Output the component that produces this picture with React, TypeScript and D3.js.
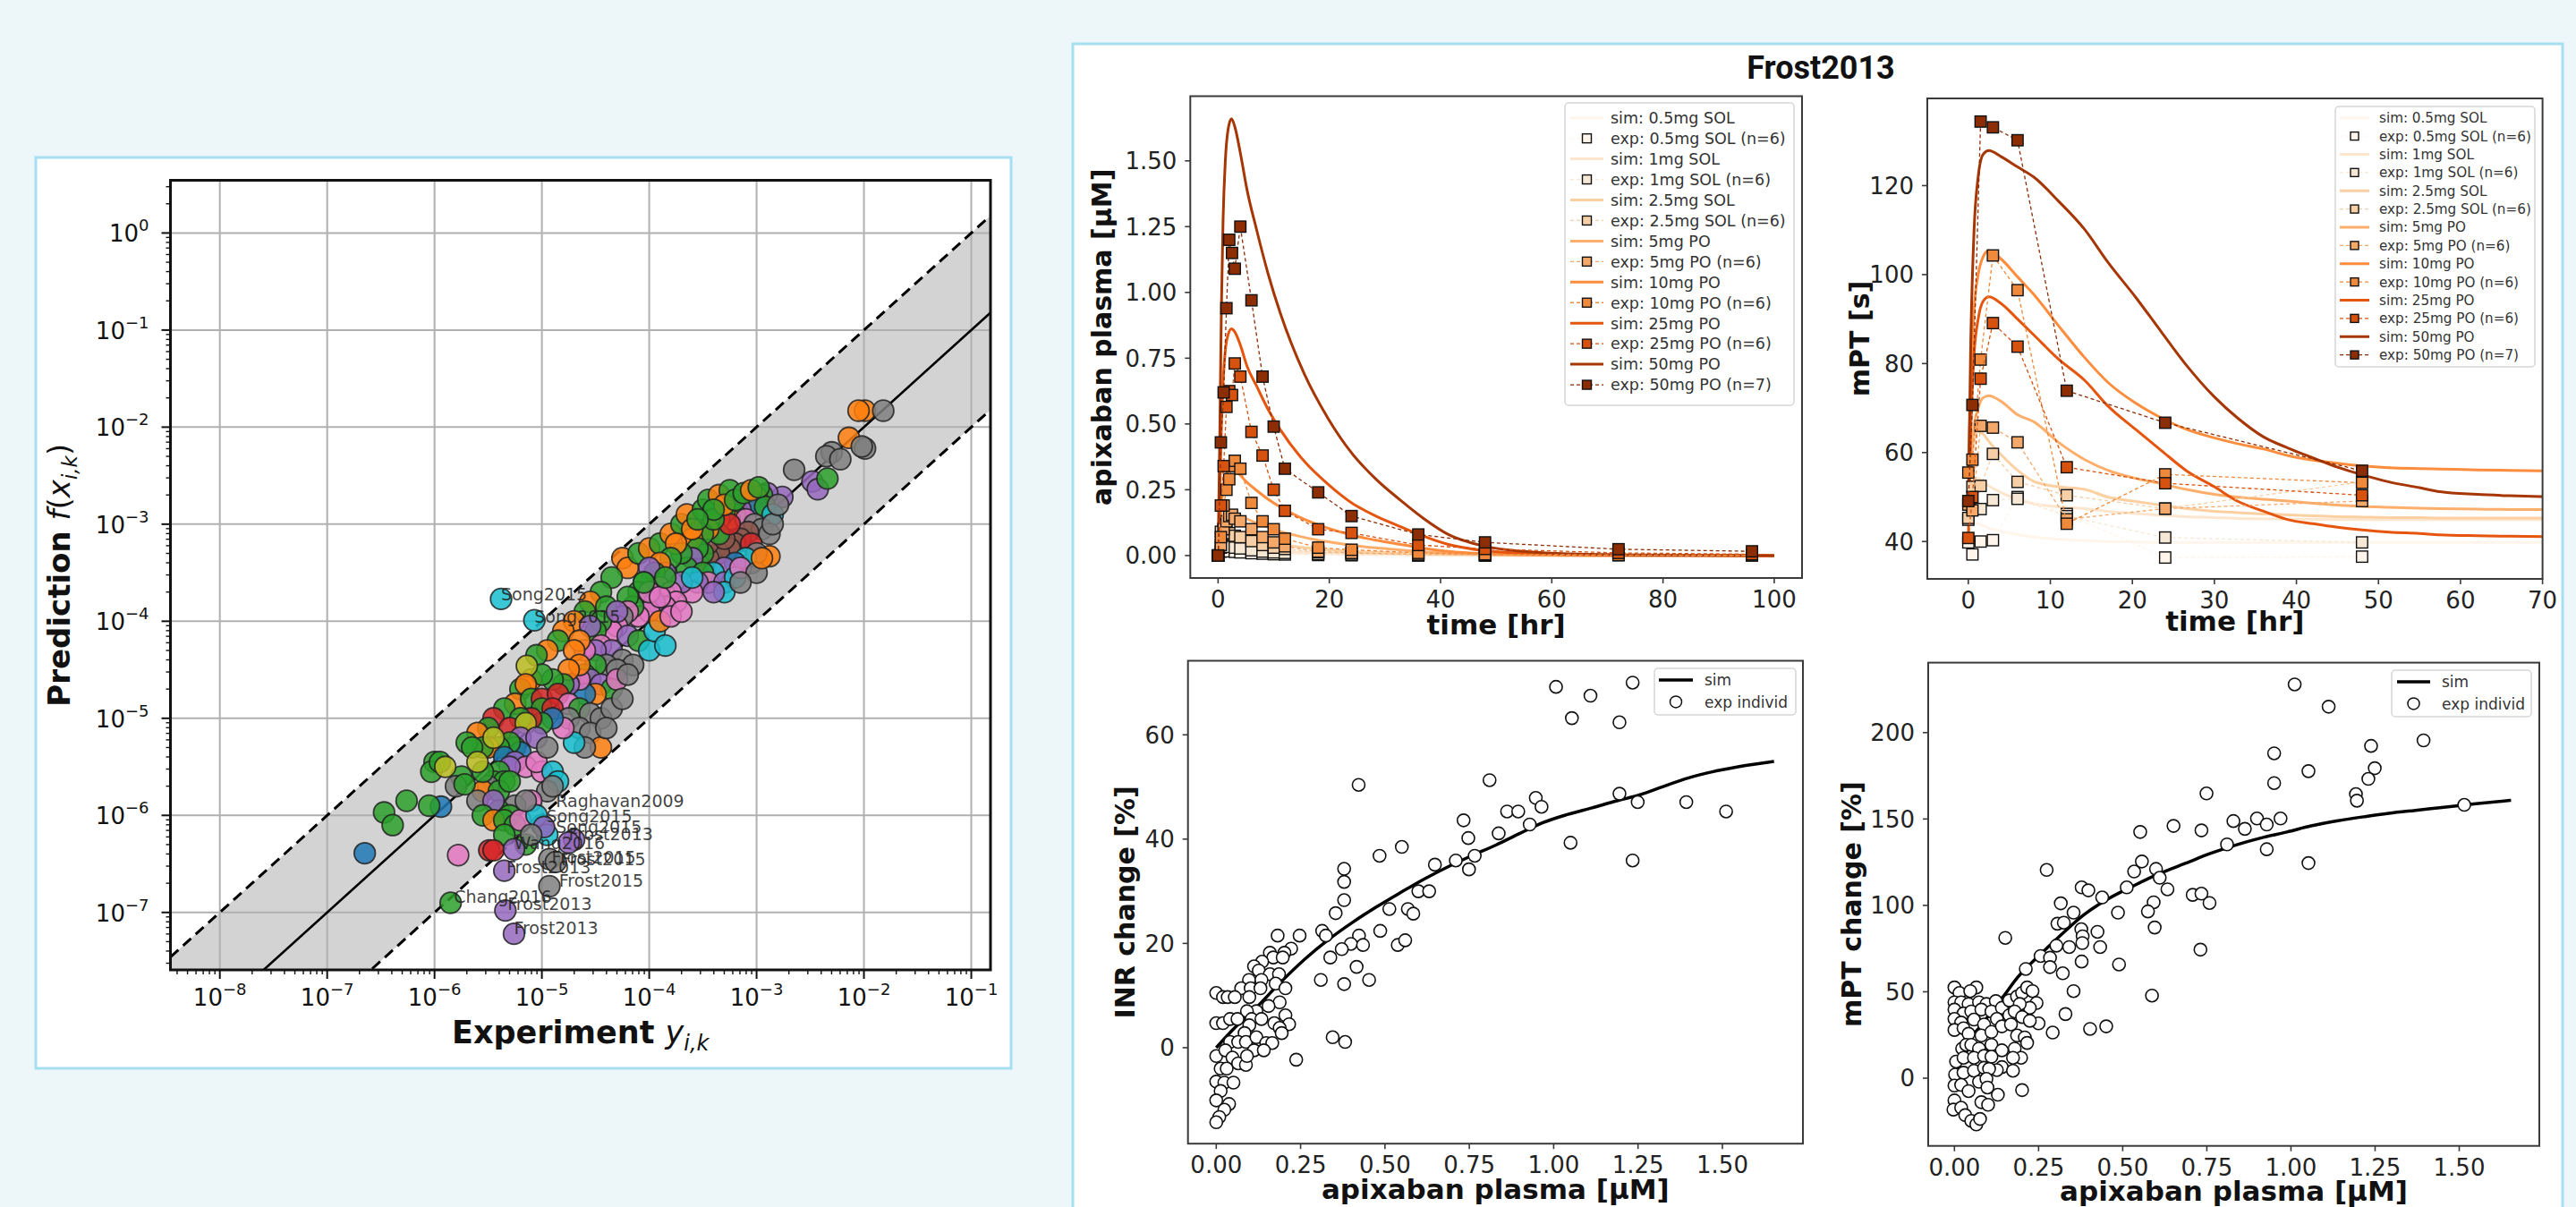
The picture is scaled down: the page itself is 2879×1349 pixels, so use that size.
import * as d3 from "d3";
import React from "react";

const W = 2879;
const H = 1349;
const FONT = "DejaVu Sans, Verdana, sans-serif";

// ---------------- left card: prediction vs experiment (log10 values) ----------------
const studyColors: Record<string, string> = {
  bl: "#1f77b4", or: "#ff7f0e", gr: "#2ca02c", rd: "#d62728", pu: "#9467bd",
  br: "#8c564b", pk: "#e377c2", gy: "#7f7f7f", yl: "#bcbd22", cy: "#17becf",
};
const xDecades = [-8, -7, -6, -5, -4, -3, -2, -1];
const yDecades = [-7, -6, -5, -4, -3, -2, -1, 0];

// [log10 experiment, log10 prediction, study]
const fitPoints: [number, number, string][] = [
  [-1.99, -1.83, "or"], [-2.05, -1.83, "or"], [-1.82, -1.83, "gy"], [-2.14, -2.11, "or"], [-1.99, -2.22, "gy"],
  [-2.02, -2.2, "gy"], [-2.3, -2.26, "gy"], [-2.35, -2.3, "gy"], [-2.22, -2.33, "gy"], [-2.65, -2.44, "gy"],
  [-2.48, -2.56, "pu"], [-2.43, -2.64, "pu"], [-2.34, -2.53, "gr"], [-2.76, -2.72, "pu"], [-2.88, -3.33, "or"],
  [-4.25, -3.35, "or"], [-4.2, -3.45, "or"], [-4.1, -3.3, "gr"], [-4.0, -3.25, "or"], [-3.9, -3.2, "gr"],
  [-3.8, -3.1, "or"], [-3.7, -3.0, "gr"], [-3.65, -2.9, "or"], [-3.5, -2.85, "gr"], [-3.45, -2.75, "gr"],
  [-3.35, -2.7, "or"], [-3.25, -2.65, "gr"], [-4.35, -3.55, "gr"], [-4.45, -3.7, "gr"], [-4.55, -3.8, "or"],
  [-4.6, -3.9, "gr"], [-4.7, -4.0, "or"], [-4.8, -4.1, "or"], [-4.85, -4.2, "gr"], [-4.95, -4.3, "or"],
  [-5.05, -4.35, "gr"], [-5.1, -4.6, "or"], [-5.2, -4.7, "gr"], [-5.25, -4.85, "or"], [-5.35, -4.9, "gr"],
  [-5.45, -5.0, "rd"], [-5.5, -5.1, "gr"], [-5.6, -5.15, "or"],
  [-2.9, -2.68, "pu"], [-2.95, -2.7, "gr"], [-3.0, -2.72, "or"], [-3.05, -2.75, "gr"], [-3.1, -2.78, "or"],
  [-3.0, -2.8, "bl"], [-2.92, -2.82, "gr"], [-2.85, -2.9, "cy"], [-3.15, -2.85, "pu"], [-3.2, -2.9, "gr"],
  [-3.25, -2.95, "or"], [-3.3, -2.88, "gr"], [-3.35, -2.95, "or"], [-3.1, -2.95, "pk"], [-3.02, -3.0, "gy"],
  [-2.95, -3.05, "gy"], [-2.88, -3.1, "gy"], [-2.85, -3.0, "gy"], [-2.8, -2.8, "gy"], [-3.05, -3.4, "gy"],
  [-3.08, -3.08, "br"], [-3.15, -3.15, "br"], [-3.2, -3.2, "br"], [-3.25, -3.25, "br"], [-3.35, -3.3, "br"],
  [-3.45, -3.35, "br"], [-3.45, -3.2, "br"], [-3.3, -3.15, "br"], [-3.55, -3.4, "br"], [-3.5, -3.3, "gr"],
  [-3.05, -3.2, "rd"], [-3.0, -3.3, "gy"], [-3.1, -3.35, "cy"], [-3.2, -3.4, "bl"], [-3.3, -3.45, "pu"],
  [-3.4, -3.5, "cy"], [-3.35, -3.1, "gr"], [-3.45, -3.05, "or"], [-3.5, -3.1, "gr"], [-3.6, -3.15, "or"],
  [-3.55, -3.25, "gr"], [-3.6, -3.35, "pu"], [-3.65, -3.45, "gr"], [-3.7, -3.3, "gr"], [-3.75, -3.2, "or"],
  [-3.8, -3.35, "gr"], [-3.85, -3.5, "pu"], [-3.5, -3.5, "gr"], [-3.45, -3.6, "pk"], [-3.55, -3.6, "pu"],
  [-3.6, -3.7, "pk"], [-3.7, -3.6, "pu"], [-3.3, -3.6, "pu"], [-3.2, -3.55, "cy"], [-3.15, -3.45, "pk"],
  [-3.0, -3.5, "gy"], [-2.95, -3.35, "or"], [-3.25, -3.0, "rd"], [-3.4, -2.95, "gr"], [-3.6, -3.05, "or"],
  [-3.3, -2.8, "or"], [-3.2, -2.75, "gr"], [-3.12, -2.68, "gr"], [-3.05, -2.65, "or"], [-2.98, -2.62, "gr"],
  [-3.4, -2.85, "gr"], [-3.55, -2.95, "gr"], [-3.6, -3.55, "cy"], [-3.3, -3.7, "cy"], [-3.4, -3.7, "pu"],
  [-3.15, -3.6, "gy"], [-3.9, -3.4, "or"], [-3.95, -3.5, "gr"], [-4.0, -3.45, "pu"], [-4.05, -3.6, "gr"],
  [-4.1, -3.7, "gr"], [-3.9, -3.65, "pk"], [-3.8, -3.7, "pk"], [-3.75, -3.8, "pk"], [-3.85, -3.85, "pk"],
  [-3.95, -3.8, "pu"], [-4.0, -3.9, "pk"], [-4.1, -3.95, "pk"], [-4.15, -3.85, "gr"], [-4.2, -3.75, "gr"],
  [-4.0, -3.7, "pk"], [-3.9, -3.75, "pk"], [-4.2, -3.9, "pk"], [-4.25, -3.95, "gy"], [-4.3, -4.05, "pk"],
  [-4.35, -4.1, "pk"], [-4.2, -4.15, "pu"], [-4.1, -4.2, "gr"], [-4.0, -4.3, "cy"], [-3.95, -4.1, "cy"],
  [-3.85, -4.25, "cy"], [-3.9, -4.0, "or"], [-3.8, -3.95, "pk"], [-3.7, -3.9, "pk"], [-4.4, -3.85, "gr"],
  [-4.45, -4.0, "gr"], [-4.5, -4.1, "gr"], [-4.55, -4.05, "pu"], [-4.45, -4.25, "pk"], [-4.35, -4.3, "pu"],
  [-4.5, -4.3, "pu"], [-4.25, -4.4, "gy"], [-4.15, -4.45, "gy"], [-4.4, -4.45, "gy"], [-4.3, -4.5, "gy"],
  [-4.5, -4.45, "gr"], [-4.6, -4.3, "pk"], [-4.65, -4.2, "or"], [-4.7, -4.3, "or"], [-4.6, -4.55, "gr"],
  [-4.55, -4.6, "pu"], [-4.45, -4.65, "pu"], [-4.35, -4.7, "gr"], [-4.3, -4.6, "pk"], [-4.5, -4.75, "or"],
  [-4.6, -4.75, "bl"], [-4.2, -4.55, "gy"], [-4.65, -4.6, "pk"], [-4.75, -4.65, "pu"], [-4.05, -3.6, "gr"],
  [-3.85, -3.55, "gr"], [-4.3, -3.9, "pu"], [-4.65, -4.45, "or"], [-4.75, -4.5, "or"], [-4.8, -4.65, "gr"],
  [-4.9, -4.6, "gr"], [-5.0, -4.55, "gr"], [-5.14, -4.46, "yl"], [-5.15, -4.65, "or"], [-5.1, -4.8, "gr"],
  [-5.0, -4.8, "rd"], [-4.85, -4.75, "rd"], [-4.75, -4.85, "pk"], [-4.65, -4.9, "gr"], [-5.0, -4.9, "gr"],
  [-4.9, -4.9, "rd"], [-4.55, -4.95, "gy"], [-4.45, -5.0, "gy"], [-4.35, -4.9, "gy"], [-4.25, -4.8, "gy"],
  [-4.75, -5.0, "gy"], [-4.65, -5.1, "gy"], [-4.55, -5.15, "gy"], [-4.45, -5.3, "or"], [-4.6, -5.3, "gy"],
  [-4.7, -5.25, "cy"], [-4.8, -5.1, "pk"], [-4.9, -5.0, "bl"], [-5.0, -5.05, "gr"], [-5.1, -5.0, "rd"],
  [-5.2, -5.0, "gr"], [-5.3, -5.1, "rd"], [-5.15, -5.05, "yl"], [-5.2, -5.2, "pu"], [-5.05, -5.2, "pu"],
  [-5.25, -5.3, "gr"], [-5.2, -5.35, "bl"], [-5.3, -5.25, "gr"], [-5.4, -5.3, "gr"], [-5.5, -5.3, "or"],
  [-5.55, -5.3, "gr"], [-5.35, -5.4, "bl"], [-5.25, -5.45, "pu"], [-5.15, -5.5, "pk"], [-5.3, -5.5, "pu"],
  [-5.4, -5.55, "gr"], [-5.45, -5.65, "gr"], [-5.35, -5.65, "gr"], [-5.5, -5.7, "gy"], [-5.55, -5.75, "or"],
  [-5.6, -5.85, "gy"], [-5.4, -5.75, "gr"], [-5.3, -5.65, "gr"], [-5.0, -5.55, "pk"], [-5.05, -5.45, "pk"],
  [-4.9, -5.55, "cy"], [-4.85, -5.65, "cy"], [-4.95, -5.75, "gy"], [-4.9, -5.7, "gy"], [-5.1, -5.85, "pk"],
  [-5.25, -5.9, "gy"], [-5.4, -5.95, "gr"], [-5.45, -5.85, "pu"], [-5.55, -6.0, "gr"], [-5.3, -6.0, "gr"],
  [-5.45, -6.05, "or"], [-5.35, -6.05, "gr"], [-5.25, -6.1, "gr"], [-5.35, -6.2, "gr"], [-5.15, -6.3, "gr"],
  [-5.2, -6.05, "pk"], [-5.0, -6.1, "cy"], [-4.95, -6.2, "cy"], [-4.7, -6.25, "pu"], [-5.7, -5.25, "gr"],
  [-5.65, -5.3, "gr"], [-5.75, -5.6, "gr"], [-5.8, -5.7, "gy"], [-5.55, -5.55, "gr"], [-5.6, -5.45, "yl"],
  [-5.45, -5.2, "yl"], [-4.95, -5.3, "gy"], [-4.4, -5.1, "gy"], [-5.38, -3.77, "cy"], [-5.07, -3.99, "cy"],
  [-6.65, -6.39, "bl"], [-6.47, -5.97, "gr"], [-6.39, -6.1, "gr"], [-6.26, -5.85, "gr"], [-6.0, -5.45, "gr"],
  [-6.03, -5.55, "gr"], [-5.95, -5.45, "gr"], [-5.9, -5.5, "yl"], [-5.94, -5.91, "bl"], [-6.05, -5.9, "gr"],
  [-5.72, -5.68, "gr"], [-5.78, -6.41, "pk"], [-5.49, -6.36, "rd"], [-5.45, -6.36, "rd"], [-5.26, -6.35, "pu"],
  [-5.35, -6.57, "pu"], [-5.85, -6.9, "gr"], [-5.34, -6.98, "pu"], [-5.26, -7.22, "pu"], [-4.93, -6.45, "gy"],
  [-4.87, -6.48, "gy"], [-4.93, -6.73, "gy"], [-5.05, -6.0, "cy"], [-4.98, -6.12, "pu"], [-5.15, -5.85, "gy"],
  [-4.75, -6.28, "pu"], [-5.1, -6.2, "gy"],
];

// outlier annotations: [log10 x, log10 y, text]
const fitLabels: [number, number, string][] = [
  [-5.38, -3.72, "Song2015"], [-5.07, -3.95, "Song2015"], [-4.87, -5.85, "Raghavan2009"],
  [-4.96, -6.01, "Song2015"], [-4.87, -6.12, "Song2015"], [-4.75, -6.19, "Frost2013"],
  [-5.26, -6.28, "Wang2016"], [-4.91, -6.43, "Frost2015"], [-4.82, -6.45, "Frost2015"],
  [-5.33, -6.53, "Frost2013"], [-4.84, -6.67, "Frost2015"], [-5.82, -6.84, "Chang2016"],
  [-5.32, -6.91, "Frost2013"], [-5.26, -7.16, "Frost2013"],
];

// ---------------- right card: Frost2013 ----------------
const doses = ["0.5mg SOL", "1mg SOL", "2.5mg SOL", "5mg PO", "10mg PO", "25mg PO", "50mg PO"];
const doseN = [6, 6, 6, 6, 6, 6, 7];
const simColors = ["#fff5eb", "#fee6ce", "#fdd0a2", "#fdae6b", "#fd8d3c", "#e6550d", "#a63603"];
const expColors = ["#fff5eb", "#f7e8d6", "#f6cfa6", "#f4a96a", "#ef8a3c", "#d8520f", "#8c2d04"];

// apixaban plasma [µM] vs time [hr]
const pkSimT = [0, 0.3, 0.6, 0.9, 1.3, 1.8, 2.4, 3, 4, 5.2, 6.9, 9, 11.2, 15.5, 19.8, 24, 28.4, 32.8, 37, 41.4, 48, 56, 64, 72, 84, 100];
const pkSim = [
  [0, 0.012, 0.018, 0.02, 0.0195, 0.0185, 0.0175, 0.0165, 0.015, 0.0135, 0.0115, 0.01, 0.008, 0.006, 0.0045, 0.0033, 0.0025, 0.0018, 0.0012, 0.0008, 0.0004, 0.0002, 0, 0, 0, 0],
  [0, 0.024, 0.036, 0.04, 0.039, 0.037, 0.035, 0.033, 0.03, 0.027, 0.023, 0.02, 0.016, 0.012, 0.009, 0.0065, 0.005, 0.0035, 0.0025, 0.0016, 0.0008, 0.0003, 0.0001, 0, 0, 0],
  [0, 0.06, 0.09, 0.1, 0.098, 0.093, 0.088, 0.083, 0.075, 0.067, 0.058, 0.049, 0.041, 0.03, 0.022, 0.016, 0.012, 0.009, 0.006, 0.004, 0.002, 0.001, 0.0004, 0.0002, 0.0001, 0],
  [0, 0.045, 0.095, 0.13, 0.15, 0.16, 0.165, 0.162, 0.152, 0.139, 0.124, 0.107, 0.092, 0.069, 0.052, 0.039, 0.029, 0.021, 0.014, 0.008, 0.0035, 0.0014, 0.0006, 0.0003, 0.0001, 0],
  [0, 0.09, 0.19, 0.26, 0.3, 0.32, 0.33, 0.325, 0.305, 0.278, 0.248, 0.214, 0.184, 0.138, 0.104, 0.078, 0.058, 0.042, 0.028, 0.016, 0.007, 0.003, 0.001, 0.0006, 0.0002, 0],
  [0, 0.23, 0.49, 0.66, 0.78, 0.84, 0.862, 0.85, 0.8, 0.72, 0.645, 0.555, 0.478, 0.358, 0.27, 0.2, 0.15, 0.11, 0.073, 0.042, 0.018, 0.007, 0.003, 0.0015, 0.0005, 0],
  [0, 0.45, 0.95, 1.28, 1.5, 1.62, 1.66, 1.63, 1.53, 1.39, 1.24, 1.07, 0.92, 0.69, 0.52, 0.39, 0.29, 0.21, 0.14, 0.08, 0.035, 0.014, 0.006, 0.003, 0.001, 0],
];
const pkExpT = [0, 0.5, 1, 1.5, 2, 2.5, 3, 4, 6, 8, 10, 12, 18, 24, 36, 48, 72, 96];
const pkExpSolT = [0, 0.5, 1, 1.5, 2, 3, 4, 6, 8, 10, 12, 18, 24, 36, 48];
const pkExp = [
  [0, 0.015, 0.02, 0.018, 0.016, 0.014, 0.012, 0.009, 0.007, 0.005, 0.004, 0.002, 0.001, 0, 0],
  [0, 0.03, 0.04, 0.035, 0.033, 0.03, 0.027, 0.02, 0.015, 0.012, 0.01, 0.005, 0.003, 0.001, 0],
  [0, 0.09, 0.1, 0.09, 0.085, 0.075, 0.07, 0.055, 0.04, 0.03, 0.025, 0.012, 0.008, 0.003, 0.001],
  [0, 0.04, 0.1, 0.13, 0.15, 0.155, 0.14, 0.13, 0.1, 0.07, 0.05, 0.035, 0.015, 0.01, 0.004, 0.002, 0.001, 0],
  [0, 0.07, 0.19, 0.25, 0.29, 0.34, 0.36, 0.33, 0.2, 0.13, 0.1, 0.064, 0.03, 0.022, 0.01, 0.005, 0.002, 0.001],
  [0, 0.19, 0.34, 0.565, 0.625, 0.61, 0.73, 0.68, 0.47, 0.38, 0.25, 0.17, 0.1, 0.086, 0.04, 0.025, 0.01, 0.005],
  [0, 0.43, 0.62, 0.94, 1.2, 1.15, 1.09, 1.25, 0.97, 0.68, 0.49, 0.33, 0.24, 0.15, 0.08, 0.05, 0.024, 0.016],
];

// mPT [s] vs time [hr]
const pdSimT = [0, 0.3, 0.7, 1.2, 1.8, 2.5, 4, 6, 8, 11, 14.2, 17, 20.4, 23.5, 26.6, 30, 32.8, 36, 39, 42, 45, 48, 51.3, 55, 57.5, 62, 66, 70];
const pdSim = [
  [39.8, 42.5, 43.8, 44.0, 43.6, 43.0, 42.3, 41.6, 41.0, 40.5, 40.2, 40.0, 39.9, 39.8, 39.8, 39.8, 39.8, 39.8, 39.8, 39.8, 39.8, 39.8, 39.8, 39.8, 39.8, 39.8, 39.8, 39.8],
  [44.9, 50, 53.5, 54.2, 53.5, 52.5, 51, 49.5, 48.5, 47.8, 47.4, 46.8, 46.3, 45.9, 45.6, 45.4, 45.2, 45.1, 45, 45, 44.9, 44.9, 44.9, 44.9, 44.9, 44.9, 44.9, 44.9],
  [45.3, 56, 62.5, 64.8, 64.2, 62.5, 59.5, 56, 53.5, 52.3, 51.7, 50, 49, 48.2, 47.4, 46.8, 46.5, 46.2, 46, 45.8, 45.6, 45.5, 45.4, 45.4, 45.3, 45.3, 45.3, 45.3],
  [48.3, 58, 66, 70, 72.3, 72.8, 71.5, 68.5, 66.9, 62.3, 58.4, 56, 54.2, 53, 51.7, 50.6, 50, 49.5, 49.1, 48.6, 48.2, 47.9, 47.7, 47.5, 47.4, 47.3, 47.2, 47.2],
  [55.5, 75, 92, 100, 104, 105.4, 103.5, 99.5, 95.5, 88.5, 81.3, 75.8, 71.1, 67.8, 65.2, 63.3, 62, 60.8, 59.3, 58.3, 57.6, 57, 56.6, 56.4, 56.3, 56.1, 56, 55.9],
  [41, 65, 82, 90, 94, 95, 93.5, 90, 86.4, 81, 76.2, 70.5, 65.2, 60.5, 55.9, 52.3, 49.1, 46.8, 44.9, 44, 43.2, 42.6, 42.1, 41.8, 41.5, 41.3, 41.2, 41.1],
  [49, 85, 110, 122, 127, 127.9, 126.5, 124.2, 121.9, 116.5, 110.1, 102.8, 94.9, 87.2, 79.6, 72.5, 67.8, 63.5, 61, 58.8, 56.7, 55, 53.4, 52.1, 51.2, 50.6, 50.3, 50.1],
];
const pdExpT = [0, 0.5, 1.5, 3, 6, 12, 24, 48];
const pdExp = [
  [39.8, 37.1, 40.0, 40.3, 50.0, 46.2, 36.4, 36.6],
  [44.9, 47.4, 47.3, 49.3, 49.6, 45.7, 40.9, 39.8],
  [45.3, 52.3, 52.5, 59.7, 53.4, 50.4, 47.4, 53.4],
  [48.3, 47.0, 66.0, 65.6, 62.3, 45.0, 47.4, 49.1],
  [55.5, 58.4, 80.9, 104.3, 96.5, 44.0, 55.1, 53.2],
  [40.8, 50.0, 76.6, 89.1, 83.8, 56.7, 53.1, 50.4],
  [49.1, 70.7, 134.4, 133.1, 130.2, 73.9, 66.7, 55.9],
];

// INR change [%] vs apixaban plasma
const inrSimC = [0, 0.05, 0.119, 0.19, 0.261, 0.33, 0.403, 0.475, 0.545, 0.615, 0.687, 0.76, 0.83, 0.9, 0.97, 1.04, 1.114, 1.185, 1.256, 1.33, 1.398, 1.47, 1.55, 1.653];
const inrSim = [0, 3.5, 7.7, 12.5, 16.9, 20.6, 24, 27, 29.7, 32.3, 34.7, 36.9, 38.9, 41.1, 43.2, 44.7, 46, 47.3, 48.5, 50.2, 51.7, 52.9, 53.9, 54.9];
const inrObs: [number, number][] = [
  [1.007, 69.2], [1.234, 70.0], [1.109, 67.5], [1.054, 63.2], [1.195, 62.4], [0.422, 50.4], [0.81, 51.3],
  [1.195, 48.7], [0.947, 47.9], [0.964, 46.2], [1.249, 47.1], [1.393, 47.1], [1.511, 45.3], [0.862, 45.3],
  [0.895, 45.3], [0.929, 42.8], [0.837, 41.1], [0.733, 43.6], [0.747, 40.2], [0.766, 36.8], [1.05, 39.3],
  [1.234, 35.9], [0.55, 38.5], [0.484, 36.8], [0.648, 35.1], [0.71, 35.9], [0.749, 34.2], [0.599, 30.0],
  [0.631, 30.0], [0.379, 34.3], [0.379, 31.8], [0.379, 28.3], [0.354, 25.8], [0.513, 26.6], [0.568, 26.6],
  [0.584, 25.7], [0.314, 22.4], [0.325, 21.5], [0.486, 22.4], [0.423, 21.5], [0.399, 19.9], [0.435, 19.7],
  [0.372, 18.9], [0.538, 19.7], [0.56, 20.6], [0.338, 17.3], [0.416, 15.5], [0.182, 21.5], [0.247, 21.5],
  [0.31, 13.0], [0.379, 12.2], [0.453, 13.0], [0.345, 2.0], [0.382, 1.1], [0.237, -2.3], [0.222, 19.0],
  [0.202, 18.2], [0.159, 18.2], [0.169, 17.3], [0.197, 17.3], [0.136, 16.5], [0.112, 15.6], [0.126, 14.8],
  [0.159, 14.1], [0.186, 14.1], [0.097, 13.0], [0.134, 13.0], [0.176, 12.3], [0.074, 11.4], [0.102, 11.4],
  [0.131, 11.4], [0.205, 11.4], [0.0, 10.5], [0.02, 9.7], [0.034, 9.7], [0.055, 9.7], [0.098, 9.7],
  [0.188, 8.7], [0.155, 8.0], [0.119, 7.0], [0.091, 7.0], [0.205, 6.2], [0.0, 4.7], [0.02, 4.7],
  [0.041, 5.5], [0.063, 5.5], [0.105, 5.5], [0.134, 5.5], [0.098, 4.3], [0.172, 4.7], [0.216, 4.5],
  [0.188, 3.8], [0.194, 2.8], [0.084, 2.8], [0.041, 1.1], [0.065, 1.1], [0.088, 1.1], [0.119, 2.0],
  [0.148, 0.9], [0.166, 0.9], [0.112, -0.5], [0.141, -0.5], [0.0, -1.6], [0.027, -0.5], [0.048, -1.9],
  [0.065, -3.0], [0.088, -3.3], [0.091, -1.6], [0.013, -4.0], [0.031, -4.0], [0.0, -6.5], [0.024, -6.7],
  [0.051, -6.7], [0.013, -8.3], [0.0, -10.1], [0.038, -10.8], [0.024, -11.9], [0.009, -13.3], [0.0, -14.3],
];

// mPT change [%] vs apixaban plasma
const mptSimC = [0, 0.02, 0.05, 0.08, 0.11, 0.15, 0.186, 0.22, 0.262, 0.32, 0.383, 0.45, 0.534, 0.61, 0.686, 0.76, 0.837, 0.91, 0.988, 1.06, 1.14, 1.22, 1.291, 1.37, 1.442, 1.55, 1.654];
const mptSim = [0, 10.7, 23.6, 30.5, 38.6, 48.5, 57.9, 65, 72.9, 83.5, 94.3, 103, 111.5, 118.5, 124.3, 130, 135, 139, 142.5, 146, 149, 151.4, 153.3, 155, 156.5, 158.8, 160.8];
const mptObs: [number, number][] = [
  [1.011, 227.9], [1.112, 215], [1.394, 195.5], [1.238, 192.3], [0.95, 188], [1.249, 179.4], [1.052, 177.7],
  [1.23, 173.2], [0.95, 170.8], [0.749, 164.8], [1.193, 164.4], [1.196, 160.6], [1.515, 158.2], [0.969, 150.3],
  [0.899, 150.3], [0.928, 146.8], [0.829, 148.8], [0.863, 144.3], [0.651, 146], [0.734, 143.4], [0.552, 142.5],
  [0.81, 135.3], [0.928, 132.5], [1.052, 124.5], [0.274, 120.5], [0.557, 125.4], [0.534, 119.6], [0.599, 121.1],
  [0.61, 116], [0.512, 110.4], [0.633, 109.3], [0.378, 110.4], [0.398, 108.7], [0.439, 104.6], [0.316, 101.2],
  [0.708, 106.1], [0.734, 106.8], [0.758, 101.4], [0.592, 101.8], [0.486, 95.8], [0.575, 96.5], [0.354, 95.8],
  [0.377, 86.2], [0.425, 84.7], [0.595, 87.2], [0.306, 89.4], [0.325, 90], [0.151, 81.2], [0.381, 82.1],
  [0.38, 78.2], [0.303, 76.7], [0.341, 75.9], [0.433, 75.9], [0.731, 74.4], [0.256, 70.7], [0.284, 69.7],
  [0.378, 67.5], [0.489, 65.8], [0.284, 64.3], [0.322, 60.7], [0.212, 63.2], [0.587, 47.8], [0.354, 50.4],
  [0.33, 37.1], [0.403, 28.5], [0.451, 30], [0.292, 26.4], [0.25, 31.7], [0.201, -6.9], [0, 52.5],
  [0.015, 49.3], [0.065, 52.5], [0.047, 50.4], [0, 43.9], [0.02, 43.9], [0.042, 42.9], [0.073, 43.9],
  [0.095, 42.9], [0.123, 44.6], [0, 39.7], [0.027, 37.5], [0.05, 38.6], [0.08, 39.7], [0.11, 38.6],
  [0.141, 40.7], [0.163, 45], [0.186, 47.2], [0.201, 49.3], [0.216, 52.5], [0.232, 50.4], [0.244, 43.5],
  [0.224, 40.7], [0.194, 42.9], [0, 34.3], [0.02, 32.2], [0.058, 33.9], [0.088, 31.1], [0.126, 34.3],
  [0.163, 36.4], [0.179, 38.6], [0.201, 35.4], [0.224, 33.2], [0, 27.9], [0.027, 28.9], [0.042, 25.7],
  [0.08, 24.7], [0.11, 26.8], [0.141, 30], [0.168, 31.1], [0.186, 24.7], [0.209, 23.6], [0.216, 20.4],
  [0.023, 17.1], [0.035, 19.3], [0.05, 19.3], [0.073, 17.1], [0.11, 19.3], [0.141, 16.1], [0.179, 17.1],
  [0.198, 11.8], [0.174, 11.8], [0.005, 9.6], [0.027, 11.8], [0.058, 11.8], [0.088, 12.9], [0.11, 12.4],
  [0.141, 6.4], [0.126, 4.7], [0.174, 4.3], [0.002, 2.1], [0.027, 3.2], [0.058, 4.3], [0.088, 6],
  [0.103, 5.4], [0, -4.3], [0.02, -3.9], [0.042, -7.5], [0.073, -2.1], [0.095, -0.4], [0.098, -5.4],
  [0.129, -9.6], [0.08, -13.9], [0.1, -15.4], [0, -12.9], [-0.003, -18.2], [0.02, -17.1], [0.032, -21.4],
  [0.05, -24.7], [0.065, -26.8], [0.076, -23.6],
];

const pkYTicks = [0, 0.25, 0.5, 0.75, 1.0, 1.25, 1.5];
const pkXTicks = [0, 20, 40, 60, 80, 100];
const pdYTicks = [40, 60, 80, 100, 120];
const pdXTicks = [0, 10, 20, 30, 40, 50, 60, 70];
const concTicks = [0, 0.25, 0.5, 0.75, 1.0, 1.25, 1.5];
const inrYTicks = [0, 20, 40, 60];
const mptYTicks = [0, 50, 100, 150, 200];

// ---------------- helpers ----------------
const sup = (d: number) => (d < 0 ? "\u2212" + Math.abs(d) : String(d));

function LinAxes({ id, x, y, xTicks, yTicks, fx, fy, xLabel, yLabel, yLabelX, xLabelY, children }: any) {
  const [x0, x1] = x.range();
  const [y1, y0] = y.range();
  return (
    <g>
      <defs>
        <clipPath id={id}>
          <rect x={x0} y={y0} width={x1 - x0} height={y1 - y0} />
        </clipPath>
      </defs>
      <rect x={x0} y={y0} width={x1 - x0} height={y1 - y0} fill="#fff" />
      <g clipPath={`url(#${id})`}>{children}</g>
      <rect x={x0} y={y0} width={x1 - x0} height={y1 - y0} fill="none" stroke="#3a3a3a" strokeWidth={2} />
      {xTicks.map((t: number) => (
        <g key={"x" + t}>
          <line x1={x(t)} x2={x(t)} y1={y1} y2={y1 + 6} stroke="#3a3a3a" strokeWidth={1.6} />
          <text x={x(t)} y={y1 + 33} textAnchor="middle" fontSize={26} fill="#222">{fx(t)}</text>
        </g>
      ))}
      {yTicks.map((t: number) => (
        <g key={"y" + t}>
          <line x1={x0 - 6} x2={x0} y1={y(t)} y2={y(t)} stroke="#3a3a3a" strokeWidth={1.6} />
          <text x={x0 - 15} y={y(t)} dy="0.36em" textAnchor="end" fontSize={26} fill="#222">{fy(t)}</text>
        </g>
      ))}
      <text x={(x0 + x1) / 2} y={xLabelY} textAnchor="middle" fontSize={31} fontWeight="bold" fill="#111">{xLabel}</text>
      <text transform={`translate(${yLabelX},${(y0 + y1) / 2}) rotate(-90)`} textAnchor="middle" fontSize={30} fontWeight="bold" fill="#111">{yLabel}</text>
    </g>
  );
}

function DoseLegend({ x0, x1, y0, y1, rowY, step, fs, hx0, hx1, tx, sq }: any) {
  const hm = (hx0 + hx1) / 2;
  return (
    <g>
      <rect x={x0} y={y0} width={x1 - x0} height={y1 - y0} rx={4} fill="#fff" fillOpacity={0.85} stroke="#d6d6d6" strokeWidth={1.5} />
      {doses.map((d, i) => {
        const ys = rowY + step * (2 * i);
        const ye = rowY + step * (2 * i + 1);
        return (
          <g key={d}>
            <line x1={hx0} x2={hx1} y1={ys} y2={ys} stroke={simColors[i]} strokeWidth={3} />
            <text x={tx} y={ys} dy="0.36em" fontSize={fs} fill="#333">{`sim: ${d}`}</text>
            <line x1={hx0} x2={hx1} y1={ye} y2={ye} stroke={expColors[i]} strokeWidth={1.3} strokeDasharray="4,3" />
            <rect x={hm - sq / 2} y={ye - sq / 2} width={sq} height={sq} fill={expColors[i]} stroke="#111" strokeWidth={1.4} />
            <text x={tx} y={ye} dy="0.36em" fontSize={fs} fill="#333">{`exp: ${d} (n=${doseN[i]})`}</text>
          </g>
        );
      })}
    </g>
  );
}

function SimLegend({ x0, x1, y0, y1, hx0, hx1, tx }: any) {
  const r1 = y0 + (y1 - y0) * 0.25;
  const r2 = y0 + (y1 - y0) * 0.72;
  return (
    <g>
      <rect x={x0} y={y0} width={x1 - x0} height={y1 - y0} rx={4} fill="#fff" fillOpacity={0.85} stroke="#d6d6d6" strokeWidth={1.5} />
      <line x1={hx0} x2={hx1} y1={r1} y2={r1} stroke="#000" strokeWidth={3.5} />
      <text x={tx} y={r1} dy="0.36em" fontSize={17} fill="#333">sim</text>
      <circle cx={(hx0 + hx1) / 2} cy={r2} r={6.5} fill="#fff" stroke="#111" strokeWidth={1.5} />
      <text x={tx} y={r2} dy="0.36em" fontSize={17} fill="#333">exp individ</text>
    </g>
  );
}

export default function App() {
  // ---- left card scales ----
  const xL = d3.scaleLog().domain([10 ** -8.46, 10 ** -0.821]).range([190.5, 1107]);
  const yL = d3.scaleLog().domain([10 ** -7.592, 10 ** 0.543]).range([1084, 201.5]);
  const [lx0, lx1] = xL.range();
  const [ly1, ly0] = yL.range();
  const [dlo, dhi] = xL.domain();
  const bandPts: [number, number][] = [
    [xL(dlo), yL(dlo * 10)], [xL(dhi), yL(dhi * 10)], [xL(dhi), yL(dhi / 10)], [xL(dlo), yL(dlo / 10)],
  ];
  const minorX: number[] = [];
  for (let d = -9; d <= 0; d++) for (let k = 2; k <= 9; k++) {
    const v = k * 10 ** d;
    if (v > dlo && v < dhi) minorX.push(v);
  }
  const [ylo, yhi] = yL.domain();
  const minorY: number[] = [];
  for (let d = -8; d <= 0; d++) for (let k = 2; k <= 9; k++) {
    const v = k * 10 ** d;
    if (v > ylo && v < yhi) minorY.push(v);
  }

  // ---- right card scales ----
  const xPk = d3.scaleLinear().domain([-5, 105]).range([1330.3, 2014]);
  const yPk = d3.scaleLinear().domain([-0.0854, 1.7458]).range([646, 107.5]);
  const xPd = d3.scaleLinear().domain([-5, 70]).range([2154, 2841.6]);
  const yPd = d3.scaleLinear().domain([31.6, 139.6]).range([647, 110]);
  const xInr = d3.scaleLinear().domain([-0.0838, 1.7387]).range([1327.7, 2015]);
  const yInr = d3.scaleLinear().domain([-18.4, 74.2]).range([1278.2, 738.5]);
  const xMpt = d3.scaleLinear().domain([-0.078, 1.738]).range([2155, 2838]);
  const yMpt = d3.scaleLinear().domain([-39.2, 240.5]).range([1280.7, 740.6]);

  const pkLine = (ts: number[]) => d3.line<number>().x((_, i) => xPk(ts[i])).y((v) => yPk(v)).curve(d3.curveMonotoneX);
  const pdLine = (ts: number[]) => d3.line<number>().x((_, i) => xPd(ts[i])).y((v) => yPd(v)).curve(d3.curveMonotoneX);
  const inrLine = d3.line<number>().x((_, i) => xInr(inrSimC[i])).y((v) => yInr(v)).curve(d3.curveMonotoneX);
  const mptLine = d3.line<number>().x((_, i) => xMpt(mptSimC[i])).y((v) => yMpt(v)).curve(d3.curveMonotoneX);
  const f2 = (v: number) => v.toFixed(2);
  const f0 = (v: number) => String(v);
  const SQ = 12.5;

  return (
    <svg width={W} height={H} style={{ position: "absolute", left: 0, top: 0 }} fontFamily={FONT}>
      <rect width={W} height={H} fill="#edf7fa" />

      {/* ================= left card ================= */}
      <rect x={40} y={176} width={1090} height={1018} fill="#fff" stroke="#a6dff0" strokeWidth={3} />
      <defs>
        <clipPath id="fitclip">
          <rect x={lx0} y={ly0} width={lx1 - lx0} height={ly1 - ly0} />
        </clipPath>
      </defs>
      <g clipPath="url(#fitclip)">
        <polygon points={bandPts.map((p) => p.join(",")).join(" ")} fill="#d3d3d3" />
        {xDecades.map((d) => (
          <line key={"gx" + d} x1={xL(10 ** d)} x2={xL(10 ** d)} y1={ly0} y2={ly1} stroke="#b0b0b0" strokeWidth={2} />
        ))}
        {yDecades.map((d) => (
          <line key={"gy" + d} x1={lx0} x2={lx1} y1={yL(10 ** d)} y2={yL(10 ** d)} stroke="#b0b0b0" strokeWidth={2} />
        ))}
        <line x1={xL(dlo)} y1={yL(dlo)} x2={xL(dhi)} y2={yL(dhi)} stroke="#000" strokeWidth={2.6} />
        <line x1={xL(dlo)} y1={yL(dlo * 10)} x2={xL(dhi)} y2={yL(dhi * 10)} stroke="#000" strokeWidth={3} strokeDasharray="12,7" />
        <line x1={xL(dlo)} y1={yL(dlo / 10)} x2={xL(dhi)} y2={yL(dhi / 10)} stroke="#000" strokeWidth={3} strokeDasharray="12,7" />
        {fitPoints.map(([ex, pr, s], i) => (
          <circle key={i} cx={xL(10 ** ex)} cy={yL(10 ** pr)} r={11.8} fill={studyColors[s]} fillOpacity={0.85}
            stroke="#222" strokeOpacity={0.85} strokeWidth={1.8} />
        ))}
        {fitLabels.map(([ex, pr, t], i) => (
          <text key={i} x={xL(10 ** ex)} y={yL(10 ** pr)} dy="0.36em" fontSize={19} fill="#222" fillOpacity={0.85}>{t}</text>
        ))}
      </g>
      <rect x={lx0} y={ly0} width={lx1 - lx0} height={ly1 - ly0} fill="none" stroke="#111" strokeWidth={3} />
      {minorX.map((v, i) => (
        <line key={"mx" + i} x1={xL(v)} x2={xL(v)} y1={ly1} y2={ly1 + 5} stroke="#111" strokeWidth={1.4} />
      ))}
      {minorY.map((v, i) => (
        <line key={"my" + i} x1={lx0 - 5} x2={lx0} y1={yL(v)} y2={yL(v)} stroke="#111" strokeWidth={1.4} />
      ))}
      {xDecades.map((d) => (
        <g key={"tx" + d}>
          <line x1={xL(10 ** d)} x2={xL(10 ** d)} y1={ly1} y2={ly1 + 10} stroke="#111" strokeWidth={2} />
          <text x={xL(10 ** d)} y={ly1 + 40} textAnchor="middle" fontSize={26} fill="#111">
            10<tspan dy={-12} fontSize={18}>{sup(d)}</tspan>
          </text>
        </g>
      ))}
      {yDecades.map((d) => (
        <g key={"ty" + d}>
          <line x1={lx0 - 10} x2={lx0} y1={yL(10 ** d)} y2={yL(10 ** d)} stroke="#111" strokeWidth={2} />
          <text x={lx0 - 24} y={yL(10 ** d) + 10} textAnchor="end" fontSize={26} fill="#111">
            10<tspan dy={-12} fontSize={18}>{sup(d)}</tspan>
          </text>
        </g>
      ))}
      <text x={(lx0 + lx1) / 2} y={1166} textAnchor="middle" fontSize={35} fill="#111">
        <tspan fontWeight="bold">Experiment </tspan>
        <tspan fontStyle="italic">y</tspan>
        <tspan fontStyle="italic" fontSize={24} dy={8}>i,k</tspan>
      </text>
      <text transform={`translate(78,${(ly0 + ly1) / 2}) rotate(-90)`} textAnchor="middle" fontSize={34} fill="#111">
        <tspan fontWeight="bold">Prediction </tspan>
        <tspan fontStyle="italic">f</tspan>
        <tspan>(</tspan>
        <tspan fontStyle="italic">x</tspan>
        <tspan fontStyle="italic" fontSize={23} dy={8}>i,k</tspan>
        <tspan dy={-8}>)</tspan>
      </text>

      {/* ================= right card ================= */}
      <rect x={1199} y={49} width={1665} height={1340} fill="#fff" stroke="#a6dff0" strokeWidth={3} />
      <text x={2035} y={88} textAnchor="middle" fontSize={36} fontWeight="bold" fontFamily="Roboto, sans-serif" fill="#111">Frost2013</text>

      {/* plasma concentration */}
      <LinAxes id="pk" x={xPk} y={yPk} xTicks={pkXTicks} yTicks={pkYTicks} fx={f0} fy={f2}
        xLabel="time [hr]" yLabel="apixaban plasma [μM]" yLabelX={1242} xLabelY={709}>
        {pkSim.map((vals, i) => (
          <path key={"s" + i} d={pkLine(pkSimT)(vals) || ""} fill="none" stroke={simColors[i]} strokeWidth={3} />
        ))}
        {pkExp.map((vals, i) => {
          const ts = i < 3 ? pkExpSolT : pkExpT;
          return (
            <g key={"e" + i}>
              <path d={d3.line<number>().x((_, j) => xPk(ts[j])).y((v) => yPk(v))(vals) || ""} fill="none"
                stroke={expColors[i]} strokeWidth={1.3} strokeDasharray="4,3" />
              {vals.map((v, j) => (
                <rect key={j} x={xPk(ts[j]) - SQ / 2} y={yPk(v) - SQ / 2} width={SQ} height={SQ}
                  fill={expColors[i]} stroke="#111" strokeWidth={1.4} />
              ))}
            </g>
          );
        })}
      </LinAxes>
      <DoseLegend x0={1749} x1={2005} y0={115} y1={453} rowY={131.7} step={22.95} fs={17.5}
        hx0={1755} hx1={1792} tx={1800} sq={10} />

      {/* mPT time course */}
      <LinAxes id="pd" x={xPd} y={yPd} xTicks={pdXTicks} yTicks={pdYTicks} fx={f0} fy={f0}
        xLabel="time [hr]" yLabel="mPT [s]" yLabelX={2089} xLabelY={705}>
        {pdSim.map((vals, i) => (
          <path key={"s" + i} d={pdLine(pdSimT)(vals) || ""} fill="none" stroke={simColors[i]} strokeWidth={3} />
        ))}
        {pdExp.map((vals, i) => (
          <g key={"e" + i}>
            <path d={d3.line<number>().x((_, j) => xPd(pdExpT[j])).y((v) => yPd(v))(vals) || ""} fill="none"
              stroke={expColors[i]} strokeWidth={1.3} strokeDasharray="4,3" />
            {vals.map((v, j) => (
              <rect key={j} x={xPd(pdExpT[j]) - SQ / 2} y={yPd(v) - SQ / 2} width={SQ} height={SQ}
                fill={expColors[i]} stroke="#111" strokeWidth={1.4} />
            ))}
          </g>
        ))}
      </LinAxes>
      <DoseLegend x0={2610} x1={2833} y0={119} y1={410} rowY={131.7} step={20.38} fs={15.2}
        hx0={2615} hx1={2648} tx={2659} sq={9} />

      {/* INR change */}
      <LinAxes id="inr" x={xInr} y={yInr} xTicks={concTicks} yTicks={inrYTicks} fx={f2} fy={f0}
        xLabel="apixaban plasma [μM]" yLabel="INR change [%]" yLabelX={1268} xLabelY={1340}>
        <path d={inrLine(inrSim) || ""} fill="none" stroke="#000" strokeWidth={3.5} />
        {inrObs.map(([c, v], i) => (
          <circle key={i} cx={xInr(c)} cy={yInr(v)} r={7} fill="#fff" stroke="#111" strokeWidth={1.6} />
        ))}
      </LinAxes>
      <SimLegend x0={1849} x1={2007} y0={747} y1={799} hx0={1854} hx1={1892} tx={1905} />

      {/* mPT change */}
      <LinAxes id="mpt" x={xMpt} y={yMpt} xTicks={concTicks} yTicks={mptYTicks} fx={f2} fy={f0}
        xLabel="apixaban plasma [μM]" yLabel="mPT change [%]" yLabelX={2080} xLabelY={1342}>
        <path d={mptLine(mptSim) || ""} fill="none" stroke="#000" strokeWidth={3.5} />
        {mptObs.map(([c, v], i) => (
          <circle key={i} cx={xMpt(c)} cy={yMpt(v)} r={7} fill="#fff" stroke="#111" strokeWidth={1.6} />
        ))}
      </LinAxes>
      <SimLegend x0={2673} x1={2829} y0={749} y1={801} hx0={2679} hx1={2716} tx={2729} />
    </svg>
  );
}
